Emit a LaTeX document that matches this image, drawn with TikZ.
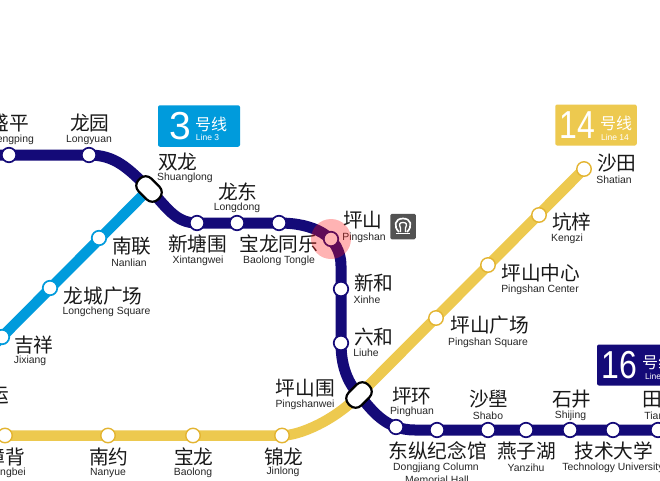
\documentclass[tikz,border=0pt]{standalone}
\usepackage{fontspec}
\setmainfont{Liberation Sans}
\newfontfamily\cjk{Noto Sans CJK SC}
\tikzset{x=1pt,y=-1pt,
 linethree/.style={line width=11pt,color=lthree},
 lineblue/.style={line width=10.5pt,color=lblue},
 lineyel/.style={line width=10.5pt,color=lyel},
 st3/.style={circle,draw=lthree,fill=white,line width=1.7pt,minimum size=14.5pt,inner sep=0pt},
 stb/.style={circle,draw=lblue,fill=white,line width=1.7pt,minimum size=14.5pt,inner sep=0pt},
 sty/.style={circle,draw=lyeld,fill=white,line width=1.4pt,minimum size=14.5pt,inner sep=0pt},
 xfer/.style={rounded corners=8pt,draw=black,fill=white,line width=2.2pt,minimum width=27.5pt,minimum height=18pt,inner sep=0pt},
 zh/.style={inner sep=0pt,xshift=.7pt,font=\cjk\fontsize{19.7}{20}\selectfont,text=black!90},
 en/.style={inner sep=0pt,yshift=-1pt,font=\fontsize{10.4}{11}\selectfont,text=black!85,align=center},
 badge/.style={rounded corners=2pt,inner sep=0pt},
 bnum/.style={text=white,inner sep=0pt,font=\fontsize{39}{39}\selectfont},
 bzh/.style={text=white,inner sep=0pt,font=\cjk\fontsize{16}{16}\selectfont},
 ben/.style={text=white,inner sep=0pt,font=\fontsize{8.5}{9}\selectfont}
}
\definecolor{lthree}{HTML}{140A78}
\definecolor{lblue}{HTML}{009BDC}
\definecolor{lyel}{HTML}{EDC94F}
\definecolor{lyeld}{HTML}{E3B431}
\begin{document}
\begin{tikzpicture}
\path[use as bounding box] (0,0) rectangle (660,480);
\clip (0,0) rectangle (660,480);
\fill[white] (0,0) rectangle (660,480);
% coordinates of stations
\coordinate (s0) at (9,155);
\coordinate (s1) at (89,155);
\coordinate (sl) at (149,189);
\coordinate (s2) at (197,223);
\coordinate (s3) at (237,223);
\coordinate (s4) at (279,223);
\coordinate (s5) at (331,239);
\coordinate (s6) at (341,289);
\coordinate (s7) at (341,343);
\coordinate (ps) at (359,395);
\coordinate (s8) at (396,427);
\coordinate (s9) at (437,430);
\coordinate (s10) at (488,430);
\coordinate (s11) at (526,430);
\coordinate (s12) at (570,430);
\coordinate (s13) at (613,430);
\coordinate (s14) at (658,430);
\coordinate (y1) at (584,169);
\coordinate (y2) at (539,215);
\coordinate (y3) at (488,265);
\coordinate (y4) at (436,318);
\coordinate (y5) at (282,435.5);
\coordinate (y6) at (193,435.5);
\coordinate (y7) at (108,435.5);
\coordinate (y8) at (5,435.5);
\coordinate (b1) at (99,238);
\coordinate (b2) at (50,288);
\coordinate (b3) at (2,337);
\coordinate (yend) at (-20,435.5);
\coordinate (bend) at (-20,359);
\coordinate (tend) at (-20,155);
\coordinate (rend) at (680,430);
\coordinate (c3a) at (415,430);
% lines
\draw[lineblue] (sl) -- (bend);
\draw[lineyel] (y1) -- (ps) .. controls (335,420) and (300,435.5) .. (y5) -- (yend);
\draw[linethree] (tend) -- (s1) .. controls (115,155) and (128,168) .. (sl) .. controls (167,207) and (175,223) .. (s2) -- (s4) .. controls (312,223) and (341,235) .. (341,266) -- (s7) .. controls (341,370) and (350,385) .. (ps) .. controls (372,410) and (385,430) .. (c3a) -- (rend);
% stations
\foreach \n in {s0,s1,s2,s3,s4,s5,s6,s7,s8,s9,s10,s11,s12,s13,s14} \node[st3] (n\n) at (\n) {};
\foreach \n in {b1,b2,b3} \node[stb] (n\n) at (\n) {};
\foreach \n in {y1,y2,y3,y4,y5,y6,y7,y8} \node[sty] (n\n) at (\n) {};
\node[xfer,rotate=-45] (xsl) at (sl) {};
\node[xfer,rotate=45] (xps) at (ps) {};
% labels
\node[zh] at (9,123) {盛平}; \node[en] at (9,139) {Shengping};
\node[zh] at (89,123) {龙园}; \node[en] at (89,139) {Longyuan};
\node[zh] at (177,162) {双龙}; \node[en] at (185,177) {Shuanglong};
\node[zh] at (237,192) {龙东}; \node[en] at (237,207) {Longdong};
\node[zh] at (197,244) {新塘围}; \node[en] at (198,260) {Xintangwei};
\node[zh] at (278,244) {宝龙同乐}; \node[en] at (279,260) {Baolong Tongle};
\node[zh] at (131,246) {南联}; \node[en] at (129,262) {Nanlian};
\node[zh] at (102.5,296) {龙城广场}; \node[en] at (106.5,311) {Longcheng Square};
\node[zh] at (33,345) {吉祥}; \node[en] at (30,360) {Jixiang};
\node[zh] at (362,220) {坪山}; \node[en] at (364,237) {Pingshan};
\node[zh] at (373,283) {新和}; \node[en] at (367,299) {Xinhe};
\node[zh] at (373,337) {六和}; \node[en] at (366,352) {Liuhe};
\node[zh] at (304.5,388) {坪山围}; \node[en] at (305,404) {Pingshanwei};
\node[zh] at (411,396) {坪环}; \node[en] at (412,411) {Pinghuan};
\node[zh] at (488,399) {沙壆}; \node[en] at (488,415) {Shabo};
\node[zh] at (571,399) {石井}; \node[en] at (570.5,415) {Shijing};
\node[zh] at (661,399) {田心}; \node[en] at (661,415) {Tianxin};
\node[zh] at (437,451) {东纵纪念馆}; \node[en] at (436,467) {Dongjiang Column}; \node[en] at (437,479) {Memorial Hall};
\node[zh] at (526,451) {燕子湖}; \node[en] at (526,467) {Yanzihu};
\node[zh] at (613,451) {技术大学}; \node[en] at (613,467) {Technology University};
\node[zh] at (489,325) {坪山广场}; \node[en] at (488,342) {Pingshan Square};
\node[zh] at (540,273) {坪山中心}; \node[en] at (540,289) {Pingshan Center};
\node[zh] at (571,222) {坑梓}; \node[en] at (567,238) {Kengzi};
\node[zh] at (616,163) {沙田}; \node[en] at (614,179) {Shatian};
\node[zh] at (108,457) {南约}; \node[en] at (108,472) {Nanyue};
\node[zh] at (193,457) {宝龙}; \node[en] at (193,472) {Baolong};
\node[zh] at (283,457) {锦龙}; \node[en] at (283,471) {Jinlong};
\node[zh] at (5,457) {嶂背}; \node[en] at (4,472) {Zhangbei};
\node[zh] at (-11,395) {大运};
% Pingshan highlight, over line and texts
\fill[red!90!pink,opacity=.32] (s5) circle (20);
% railway icon
\node[rounded corners=1.5pt,fill=black!68,minimum size=25.5pt,inner sep=0pt] (rail) at (403,226.5) {};
\draw[white,line width=1.7pt] (399,232) .. controls (393,226) and (395,218.5) .. (403,218.5) .. controls (411,218.5) and (413,226) .. (407,232);
\draw[white,line width=1.3pt] (400.5,232) -- (400.5,228) .. controls (398.5,224) and (400,222.5) .. (403,222.5) .. controls (406,222.5) and (407.5,224) .. (405.5,228) -- (405.5,232);
\draw[white,line width=1.5pt] (396,233.5) -- (410,233.5);
% badges
\node[badge,fill=lblue,minimum width=82pt,minimum height=41.5pt] (b3box) at (199,126) {};
\node[badge,fill=lyel,minimum width=81.5pt,minimum height=41pt] (b14box) at (596,125) {};
\node[badge,fill=lthree,minimum width=80pt,minimum height=41pt] (b16box) at (637,365) {};
\node[bnum] at (180.5,126) {3};
\node[bzh] at (211,124) {号线};
\node[ben] at (207.5,137.5) {Line 3};
\node[bnum,xscale=.82,transform shape] at (577.5,125) {14};
\node[bzh] at (616,123) {号线};
\node[ben] at (615,137) {Line 14};
\node[bnum,xscale=.82,transform shape] at (619,365) {16};
\node[bzh] at (658,362) {号线};
\node[ben] at (659,376) {Line 16};
\end{tikzpicture}
\end{document}
